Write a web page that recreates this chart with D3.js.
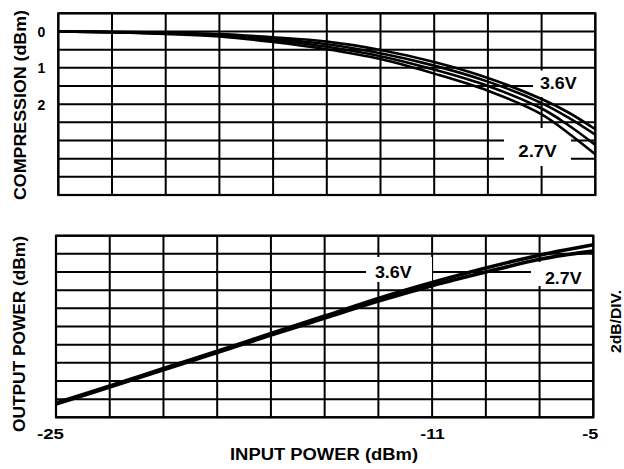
<!DOCTYPE html>
<html>
<head>
<meta charset="utf-8">
<script src="https://cdn.jsdelivr.net/npm/d3@7"></script>
<style>
  html, body { margin: 0; padding: 0; background: #fff; }
  svg { display: block; }
  text { font-family: "Liberation Sans", Arial, Helvetica, sans-serif; font-weight: bold; fill: #000; }
</style>
</head>
<body>
<svg id="chart" width="624" height="469"></svg>
<script>
// ---- data ----
const inputPower = [-25, -23, -21, -19, -17, -15, -13, -11, -9, -7, -6, -5];
// compression curves (dB), four traces
const compA = [0, 0.01, 0.03, 0.07, 0.16, 0.28, 0.51, 0.84, 1.28, 1.86, 2.23, 2.69];
const compB = [0, 0.02, 0.05, 0.09, 0.20, 0.35, 0.60, 0.94, 1.38, 1.97, 2.37, 2.84];
const compC = [0, 0.02, 0.05, 0.11, 0.24, 0.42, 0.68, 1.05, 1.50, 2.12, 2.58, 3.12];
const compD = [0, 0.02, 0.07, 0.14, 0.29, 0.49, 0.76, 1.16, 1.63, 2.28, 2.80, 3.38];
// output power (dBm, relative scale 2 dB/div)
const out36 = [-11.43, -9.56, -7.62, -5.72, -3.77, -1.85, 0.10, 1.85, 3.45, 4.85, 5.45, 6.00];
const out27 = [-11.54, -9.68, -7.76, -5.88, -3.95, -2.08, -0.20, 1.50, 3.00, 4.40, 4.90, 5.30];
const xTickLabels = [-25, -11, -5];
const compTickLabels = [0, 1, 2];
const xGrid = d3.range(-25, -4, 2);
const compGrid = d3.range(-0.5, 4.51, 0.5);
const outGrid = d3.range(-13, 7.01, 2);

const svg = d3.select("#chart");

// ---- scales ----
const xTop = d3.scaleLinear().domain([-25, -5]).range([58.3, 595.3]);
const yTop = d3.scaleLinear().domain([-0.5, 4.5]).range([13.3, 195]);
const xBot = d3.scaleLinear().domain([-25, -5]).range([56, 593.3]);
const yBot = d3.scaleLinear().domain([-13, 7]).range([417.3, 235.7]);

function drawGrid(g, xs, ys, xg, yg) {
  const [x0, x1] = xs.range();
  const [y0, y1] = [ys.range()[0], ys.range()[1]];
  g.append("g").selectAll("line").data(xg).join("line")
    .attr("x1", d => xs(d)).attr("x2", d => xs(d))
    .attr("y1", Math.min(y0, y1)).attr("y2", Math.max(y0, y1))
    .attr("stroke", "#000").attr("stroke-width", 2);
  g.append("g").selectAll("line").data(yg).join("line")
    .attr("x1", x0).attr("x2", x1)
    .attr("y1", d => ys(d)).attr("y2", d => ys(d))
    .attr("stroke", "#000").attr("stroke-width", 2);
  g.append("rect")
    .attr("x", x0).attr("y", Math.min(y0, y1))
    .attr("width", x1 - x0).attr("height", Math.abs(y1 - y0))
    .attr("fill", "none").attr("stroke", "#000").attr("stroke-width", 2.2);
}

const gTop = svg.append("g");
const gBot = svg.append("g");
drawGrid(gTop, xTop, yTop, xGrid, compGrid);
drawGrid(gBot, xBot, yBot, xGrid, outGrid);

// label boxes (white knockouts) + labels
function label(g, txt, cx, baseline, len, box) {
  g.append("rect").attr("x", box[0]).attr("y", box[1])
    .attr("width", box[2] - box[0]).attr("height", box[3] - box[1])
    .attr("fill", "#fff");
  g.append("text").attr("x", cx).attr("y", baseline)
    .attr("text-anchor", "middle").attr("font-size", 16)
    .attr("textLength", len).attr("lengthAdjust", "spacingAndGlyphs")
    .text(txt);
}
label(gTop, "3.6V", 558.3, 88.5, 36.7, [533, 70.5, 594, 97]);
label(gTop, "2.7V", 537.5, 156.7, 38.4, [504, 128, 571, 166]);
label(gBot, "3.6V", 393.3, 277.5, 36.7, [366, 257, 432, 282]);
label(gBot, "2.7V", 563.3, 283.5, 36.7, [531, 262, 592, 286]);

// curves
const lineTop = d3.line().x((d, i) => xTop(inputPower[i])).y(d => yTop(d)).curve(d3.curveCatmullRom.alpha(0.5));
const lineBot = d3.line().x((d, i) => xBot(inputPower[i])).y(d => yBot(d)).curve(d3.curveCatmullRom.alpha(0.5));
gTop.append("g").selectAll("path").data([compA, compB, compC, compD]).join("path")
  .attr("d", lineTop).attr("fill", "none").attr("stroke", "#000").attr("stroke-width", 2.6);
gBot.append("g").selectAll("path").data([out36, out27]).join("path")
  .attr("d", lineBot).attr("fill", "none").attr("stroke", "#000").attr("stroke-width", 3.6);

// axes tick labels
const xAxis = d3.axisBottom(xBot).tickValues(xTickLabels).tickSize(0).tickPadding(0).tickFormat(d => String(d));
const gx = svg.append("g").attr("transform", "translate(0,428)").call(xAxis);
gx.select(".domain").remove();
gx.selectAll("text").attr("font-size", 15).attr("fill", "#000")
  .attr("font-family", "'Liberation Sans', Arial, sans-serif").attr("font-weight", "bold")
  .attr("lengthAdjust", "spacingAndGlyphs")
  .attr("textLength", d => d === -5 ? 16 : (d === -25 ? 27 : 24.5))
  .attr("dx", d => d === -25 ? -6 : (d === -5 ? -3.5 : 0));

const yAxis = d3.axisLeft(yTop).tickValues(compTickLabels).tickSize(0).tickPadding(0).tickFormat(d => String(d));
const gy = svg.append("g").attr("transform", "translate(45,0)").call(yAxis);
gy.select(".domain").remove();
gy.selectAll("text").attr("font-size", 14).attr("fill", "#000")
  .attr("font-family", "'Liberation Sans', Arial, sans-serif").attr("font-weight", "bold")
  .attr("text-anchor", "middle").attr("dx", -3.7).attr("dy", "0.36em");

// axis titles
function rotTitle(txt, x, y, len, fs) {
  svg.append("text").attr("transform", `translate(${x},${y}) rotate(-90)`)
    .attr("text-anchor", "middle").attr("font-size", fs)
    .attr("textLength", len).attr("lengthAdjust", "spacingAndGlyphs")
    .text(txt);
}
rotTitle("COMPRESSION (dBm)", 26, 105, 190, 16);
rotTitle("OUTPUT POWER (dBm)", 25, 334, 196, 16);
rotTitle("2dB/DIV.", 621, 321.5, 63, 15);
svg.append("text").attr("x", 324).attr("y", 460).attr("text-anchor", "middle")
  .attr("font-size", 16).attr("textLength", 188).attr("lengthAdjust", "spacingAndGlyphs")
  .text("INPUT POWER (dBm)");
</script>
</body>
</html>
